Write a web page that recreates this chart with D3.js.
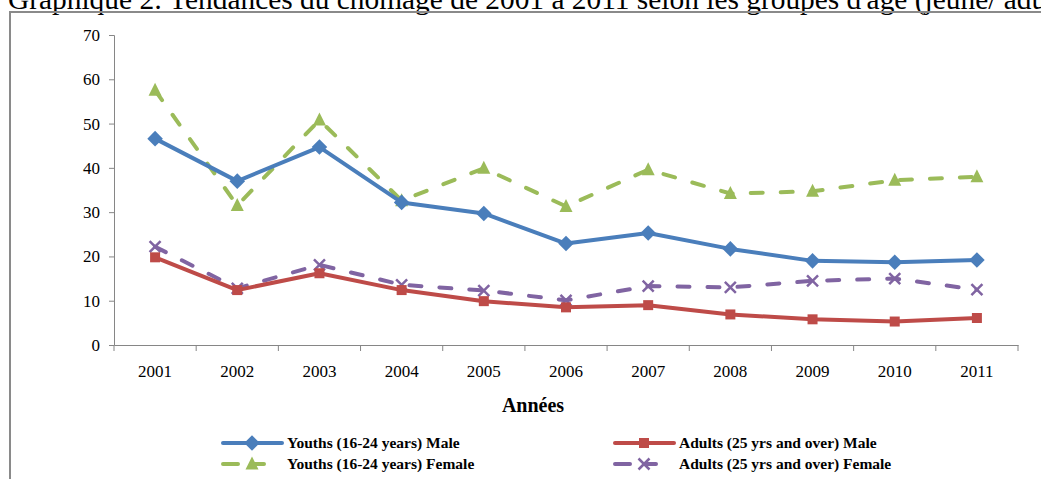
<!DOCTYPE html>
<html><head><meta charset="utf-8">
<script src="https://cdn.jsdelivr.net/npm/d3@7"></script>
<style>
body{margin:0;background:#fff;overflow:hidden}
svg{display:block}
svg text{font-family:"Liberation Serif","DejaVu Serif","Times New Roman",serif !important;fill:#000}
</style></head>
<body>
<svg id="c" width="1041" height="479"></svg>
<script>
const years = ["2001","2002","2003","2004","2005","2006","2007","2008","2009","2010","2011"];
const youthsMale   = [46.6, 37.0, 44.7, 32.2, 29.7, 22.9, 25.3, 21.7, 19.0, 18.7, 19.2];
const youthsFemale = [57.5, 31.5, 50.8, 32.6, 39.9, 31.3, 39.6, 34.2, 34.7, 37.2, 38.0];
const adultsMale   = [19.8, 12.4, 16.2, 12.4, 9.9, 8.5, 9.0, 6.9, 5.8, 5.3, 6.1];
const adultsFemale = [22.2, 12.8, 18.1, 13.6, 12.3, 10.1, 13.3, 13.0, 14.5, 15.0, 12.5];
const yTicks = [0,10,20,30,40,50,60,70];
const seriesNames = ["Youths (16-24 years) Male","Adults (25 yrs and over) Male","Youths (16-24 years) Female","Adults (25 yrs and over) Female"];
const titleText = "Graphique 2: Tendances du chômage de 2001 à 2011 selon les groupes d'âge (jeune/ adulte) et le sexe";
const xTitle = "Années";

const SERIF = '"Liberation Serif","DejaVu Serif","Times New Roman",serif';
const svg = d3.select("#c");
// title (clipped at top, as in the reference)
svg.append("text").attr("x",8).attr("y",9).style("font-size","29.4px").style("font-family",SERIF).text(titleText);
// chart border
svg.append("rect").attr("x",10).attr("y",12).attr("width",1060).attr("height",490)
  .attr("fill","none").attr("stroke","#8a8a8a").attr("stroke-width",2);

const x = d3.scaleBand().domain(years).range([114,1018]);
const y = d3.scaleLinear().domain([0,70]).range([345,35]);

const axisColor = "#868686";
// y axis
const gy = svg.append("g").attr("transform","translate(114,0)")
  .call(d3.axisLeft(y).tickValues(yTicks).tickSize(5).tickPadding(9));
gy.attr("font-family",null);
gy.select(".domain").attr("stroke",axisColor);
gy.selectAll(".tick line").attr("stroke",axisColor);
gy.selectAll(".tick text").style("font-size","17px").style("font-family",SERIF).attr("fill","#000");

// x axis
const gx = svg.append("g").attr("transform","translate(0,345)")
  .call(d3.axisBottom(x).tickSize(0).tickPadding(20));
gx.attr("font-family",null);
gx.select(".domain").attr("stroke",axisColor);
gx.selectAll(".tick text").style("font-size","17px").style("font-family",SERIF).attr("fill","#000");
// boundary ticks
const bounds = years.map(d=>x(d)).concat([x(years[years.length-1])+x.bandwidth()]);
svg.append("g").selectAll("line").data(bounds).join("line")
  .attr("x1",d=>d).attr("x2",d=>d).attr("y1",345).attr("y2",351)
  .attr("stroke",axisColor);

svg.append("text").attr("x",533).attr("y",412).attr("text-anchor","middle")
  .style("font-size","20px").style("font-weight","bold").style("font-family",SERIF).text(xTitle);

const cx = d => x(d) + x.bandwidth()/2;
const series = [
  {name:seriesNames[0], vals:youthsMale, color:"#4A7EBB", dash:null, marker:"diamond"},
  {name:seriesNames[2], vals:youthsFemale, color:"#9BBB59", dash:"12,18", marker:"triangle"},
  {name:seriesNames[1], vals:adultsMale, color:"#BE4B48", dash:null, marker:"square"},
  {name:seriesNames[3], vals:adultsFemale, color:"#8064A2", dash:"12,18", marker:"x"}
];
const line = d3.line().x((d,i)=>cx(years[i])).y(d=>y(d));

function drawMarker(g, type, color, px, py){
  if(type==="diamond"){
    g.append("path").attr("transform",`translate(${px},${py}) rotate(45)`)
      .attr("d","M-5.5,-5.5H5.5V5.5H-5.5Z").attr("fill",color);
  } else if(type==="square"){
    g.append("path").attr("transform",`translate(${px},${py})`)
      .attr("d","M-5,-5H5V5H-5Z").attr("fill",color);
  } else if(type==="triangle"){
    g.append("path").attr("transform",`translate(${px},${py})`)
      .attr("d","M0,-7.5L6.5,5.5H-6.5Z").attr("fill",color);
  } else {
    g.append("path").attr("transform",`translate(${px},${py})`)
      .attr("d","M-5.5,-5.5L5.5,5.5M5.5,-5.5L-5.5,5.5").attr("stroke",color).attr("stroke-width",2.5).attr("fill","none");
  }
}

const order = [3,2,1,0];
order.forEach(k=>{
  const s = series[k];
  const g = svg.append("g");
  g.append("path").datum(s.vals).attr("d",line).attr("fill","none")
    .attr("stroke",s.color).attr("stroke-width",4).attr("stroke-linejoin","round")
    .attr("stroke-linecap",s.dash?"round":"butt")
    .attr("stroke-dasharray",s.dash);
  s.vals.forEach((v,i)=>drawMarker(g,s.marker,s.color,cx(years[i]),y(v)));
});

// legend
const leg = [
  {s:series[0], lx:223, ly:443},
  {s:series[1], lx:223, ly:464},
  {s:series[2], lx:615, ly:443},
  {s:series[3], lx:615, ly:464}
];
leg.forEach(L=>{
  const g = svg.append("g");
  const s = L.s;
  g.append("line").attr("x1",L.lx).attr("x2",L.lx+59).attr("y1",L.ly).attr("y2",L.ly)
    .attr("stroke",s.color).attr("stroke-width",4)
    .attr("stroke-linecap","round")
    .attr("stroke-dasharray",s.dash?"15,14,12,100":null);
  drawMarker(g,s.marker,s.color,L.lx+29,L.ly);
  g.append("text").attr("x",L.lx+64).attr("y",L.ly+5)
    .style("font-size","15.5px").style("font-weight","bold").style("font-family",SERIF).text(s.name);
});
</script>
</body></html>
